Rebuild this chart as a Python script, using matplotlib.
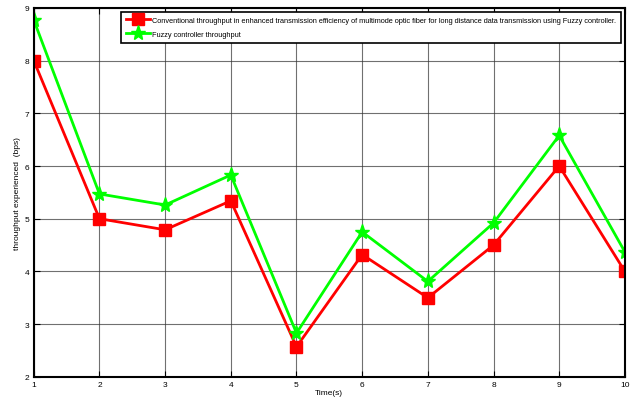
import matplotlib
matplotlib.use("Agg")
import matplotlib.pyplot as plt

time_s = [1, 2, 3, 4, 5, 6, 7, 8, 9, 10]
conventional = [8.0, 5.0, 4.79, 5.34, 2.57, 4.32, 3.5, 4.5, 6.0, 4.0]
fuzzy = [8.77, 5.47, 5.26, 5.83, 2.83, 4.75, 3.81, 4.92, 6.58, 4.37]

x_ticks = [1, 2, 3, 4, 5, 6, 7, 8, 9, 10]
y_ticks = [2, 3, 4, 5, 6, 7, 8, 9]

plt.rcParams["font.family"] = ["Liberation Sans", "DejaVu Sans"]

fig = plt.figure(figsize=(6.37, 4.02), dpi=100)
ax = fig.add_axes([0.053, 0.06, 0.928, 0.918])

ax.plot(time_s, conventional, color="red", marker="s", markersize=8, linewidth=2.0,
        label="Conventional throughput in enhanced transmission efficiency of multimode optic fiber for long distance data transmission using Fuzzy controller.")
ax.plot(time_s, fuzzy, color="#00ff00", marker="*", markersize=11, linewidth=2.0,
        label="Fuzzy controller throughput")

ax.set_xlim(1, 10)
ax.set_ylim(2, 9)
ax.set_xticks(x_ticks)
ax.set_yticks(y_ticks)
ax.tick_params(direction="in", top=True, right=True, labelsize=6, length=4, pad=3)
ax.grid(True, color="#333333", linewidth=0.8, alpha=0.7)
for sp in ax.spines.values():
    sp.set_linewidth(1.5)

ax.set_xlabel("Time(s)", fontsize=6, labelpad=1)
ax.set_ylabel("throughput experienced  (bps)", fontsize=6, labelpad=3)

leg = ax.legend(loc="upper right", fontsize=5.3, fancybox=False, framealpha=1,
                edgecolor="black", borderpad=0.7, handlelength=3.2, labelspacing=0.9,
                handletextpad=0.3, borderaxespad=0.5)
leg.get_frame().set_linewidth(1.2)

fig.savefig("out.png", dpi=100)
